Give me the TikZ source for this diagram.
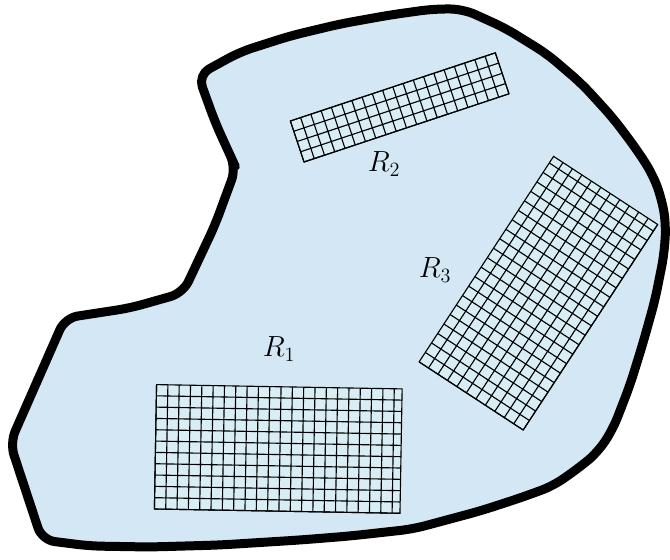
\documentclass[tikz,border=0pt]{standalone}
\usepackage{tikz}
\usetikzlibrary{positioning}
\usepackage{xcolor}
\definecolor{regionblue}{RGB}{212,231,245}
\definecolor{meshfill}{RGB}{216,238,244}

\begin{document}
\begin{tikzpicture}[
  region/.style={draw, fill=regionblue, line width=6.4pt, line join=round, rounded corners=9pt},
  meshbox/.style={draw, fill=meshfill, line width=0.8pt},
  meshlines/.style={draw, line width=0.8pt},
  lbl/.style={font=\fontsize{22}{26}\selectfont, inner sep=0pt}]
  \useasboundingbox (0,0) rectangle (16.75,13.975);

  \draw[region] (4.95,12.10) -- (6.00,12.675) -- (7.25,13.075) -- (8.50,13.375)
    -- (9.75,13.60) -- (10.825,13.75) -- (11.575,13.75) -- (12.625,13.275)
    -- (13.675,12.625) -- (14.55,11.875) -- (15.325,11.025) -- (15.925,10.225)
    -- (16.325,9.60) -- (16.55,8.975) -- (16.65,8.35) -- (16.60,7.60)
    -- (16.375,6.475) -- (16.075,5.40) -- (15.75,4.35) -- (15.325,3.25)
    -- (14.95,2.675) -- (14.50,2.30) -- (13.825,1.825) -- (13.00,1.525)
    -- (12.00,1.20) -- (10.325,0.75) -- (8.75,0.575) -- (7.50,0.475)
    -- (5.50,0.35) -- (3.75,0.30) -- (2.25,0.325) -- (1.05,0.475)
    -- (0.25,2.90) -- (1.625,6.025) -- (3.25,6.275) -- (4.575,6.65)
    -- (5.375,8.35) -- (5.90,9.775) -- (5.75,10.10) -- (5.375,10.925) -- cycle;

  % R1
  \begin{scope}[shift={(3.86,1.25)}, rotate=-1]
    \draw[meshbox] (0,0) rectangle (6.14,3.11);
    \draw[meshlines, step=0.283] (0,0) grid (6.14,3.11);
  \end{scope}
  % R2
  \begin{scope}[shift={(7.6,9.925)}, rotate=18.4]
    \draw[meshbox] (0,0) rectangle (5.4,1.08);
    \draw[meshlines, step=0.27] (0,0) grid (5.4,1.08);
  \end{scope}
  % R3
  \begin{scope}[shift={(13.08,3.225)}, rotate=56.8]
    \draw[meshbox] (0,0) rectangle (6.14,3.11);
    \draw[meshlines, step=0.283] (0,0) grid (6.14,3.11);
  \end{scope}

  \node[lbl] (r1) at (6.975,5.25) {$R_1$};
  \node[lbl] (r2) at (9.6,9.875) {$R_2$};
  \node[lbl] (r3) at (10.875,7.225) {$R_3$};
\end{tikzpicture}
\end{document}
